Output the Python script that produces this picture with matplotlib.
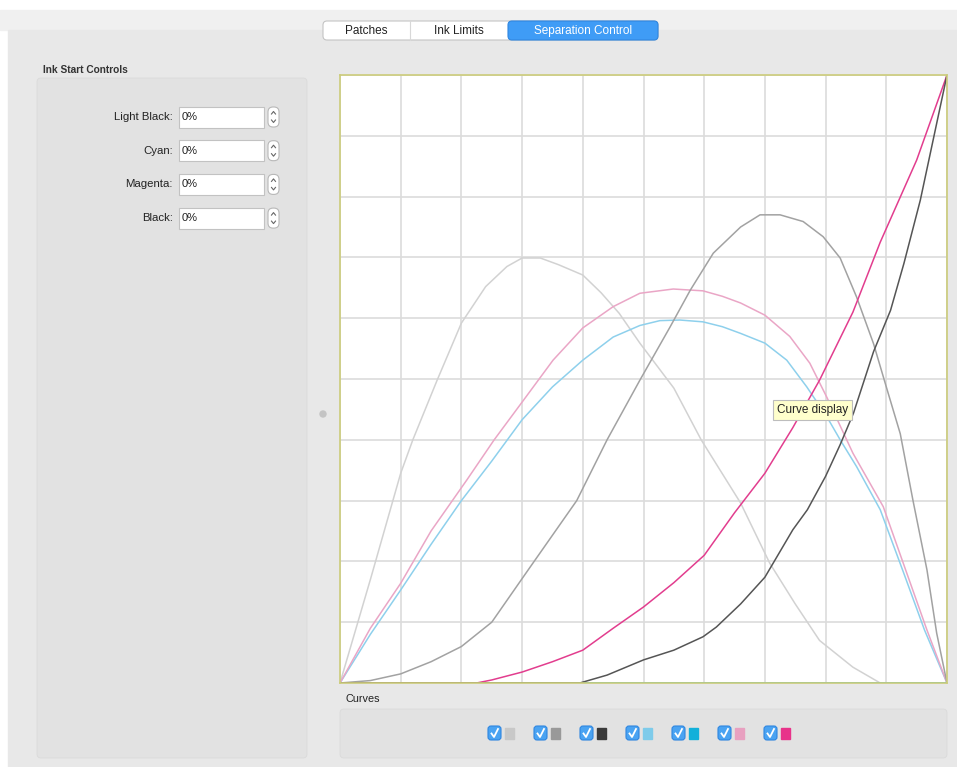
import matplotlib.pyplot as plt
from matplotlib.patches import FancyBboxPatch, Rectangle, Circle
import numpy as np

plt.rcParams['font.family'] = ['Liberation Sans', 'DejaVu Sans']

# --- curve data (ink % vs input %) ---
x_light_black = [0, 5, 10, 12, 16, 20, 24, 27.5, 30, 33, 36, 40, 43, 46, 49.4, 55, 59.5, 66, 70.8, 75, 79, 84.5, 89]
y_light_black = [0, 17, 34.5, 40, 49.8, 59.2, 65.2, 68.5, 69.9, 69.9, 68.8, 67.1, 64.2, 60.8, 55.9, 48.5, 40, 29.6, 19.7, 13, 7, 2.6, 0]

x_gray = [0, 5, 10, 15, 20, 25, 31, 39, 44, 49.4, 54.4, 57.7, 61.5, 66, 69.2, 72.5, 76.3, 79.6, 82.4,
          85.1, 87.9, 90, 92.3, 94.4, 96.7, 98.3, 100]
y_gray = [0, 0.4, 1.5, 3.5, 6, 10, 18.6, 30, 40, 49.8, 58.6, 64.6, 70.7, 75, 77, 77, 75.9, 73.4, 69.9,
          63.5, 55.8, 48.7, 41, 30, 18.6, 8.2, 0]

x_black = [0, 39.5, 44, 50, 55, 59.8, 62, 66, 70, 74.6, 77, 80, 82.4, 84.6, 87.9, 90.7, 92.9, 95.6, 100]
y_black = [0, 0, 1.3, 3.8, 5.4, 7.6, 9.2, 13, 17.4, 25.2, 28.5, 34, 39.2, 44.4, 54.5, 61.3, 69, 79.4, 100]

x_light_cyan = [0, 5, 10, 15, 20, 25, 30, 35, 40, 45, 49.4, 52.7, 56, 59.8, 63, 66, 70, 73.6, 76.9,
                80.2, 82.4, 85.1, 89, 92.9, 96.3, 100]
y_light_cyan = [0, 8, 15.3, 22.8, 30, 36.5, 43.3, 48.7, 53.1, 56.9, 58.8, 59.6, 59.7, 59.4, 58.6, 57.5, 55.9, 53.1, 48.7,
                43.8, 40, 35.6, 28.5, 18, 8.7, 0]

x_cyan = [0, 100]
y_cyan = [0, 0]

x_light_magenta = [0, 5, 10, 15, 20.9, 25.4, 30, 35.1, 40, 45, 49.4, 54.9, 59.8, 63, 66, 70, 74.1, 77.4,
                   80.2, 84.5, 89.5, 93.4, 96.7, 100]
y_light_magenta = [0, 9, 16.4, 25, 33.4, 40, 46.2, 53.1, 58.4, 61.9, 64.1, 64.8, 64.5, 63.6, 62.5, 60.5, 57, 52.6,
                   47, 37.8, 29, 18, 8.7, 0]

x_magenta = [0, 22.5, 25, 30, 35, 40, 45, 50, 55, 60, 65, 70, 74.6, 79, 84.5, 89, 95, 100]
y_magenta = [0, 0, 0.5, 1.8, 3.5, 5.4, 9, 12.5, 16.5, 21, 28, 34.5, 42, 49.8, 61, 72.5, 86, 100]

tab_names = ['Patches', 'Ink Limits', 'Separation Control']
control_labels = ['Light Black:', 'Cyan:', 'Magenta:', 'Black:']
control_values = ['0%', '0%', '0%', '0%']
swatch_colors = ['#c8c8c8', '#999999', '#3a3a3a', '#7ecbea', '#12b0da', '#e8a0c0', '#e8338a']

W, H = 957, 767
fig = plt.figure(figsize=(W / 100, H / 100), dpi=100)

# background axes in pixel units
bg = fig.add_axes([0, 0, 1, 1])
bg.set_xlim(0, W)
bg.set_ylim(H, 0)
bg.axis('off')

bg.add_patch(Rectangle((0, 0), W, H, color='#ffffff', zorder=0))
bg.add_patch(Rectangle((0, 10), W, 20, color='#f0f0f0', zorder=0))
bg.add_patch(Rectangle((8, 30), W - 8, H - 30, color='#e8e8e8', zorder=0))

# tabs
tab_edges = [323, 410, 508, 658]
bg.add_patch(FancyBboxPatch((323, 21), 335, 19, boxstyle='round,pad=0,rounding_size=4',
                            fc='white', ec='#c4c4c4', lw=0.8, zorder=1))
bg.add_patch(FancyBboxPatch((508, 21), 150, 19, boxstyle='round,pad=0,rounding_size=4',
                            fc='#3f9cf6', ec='#2f86e0', lw=0.8, zorder=2))
bg.plot([410, 410], [21, 40], color='#d8d8d8', lw=0.8, zorder=2)
for i, name in enumerate(tab_names):
    cx = (tab_edges[i] + tab_edges[i + 1]) / 2
    col = 'white' if i == 2 else '#222222'
    bg.text(cx, 31, name, ha='center', va='center', fontsize=8.5, color=col, zorder=3)

# left panel
bg.text(43, 70, 'Ink Start Controls', ha='left', va='center', fontsize=7.3,
        color='#333333', fontweight='bold', zorder=3)
bg.add_patch(FancyBboxPatch((37, 78), 270, 680, boxstyle='round,pad=0,rounding_size=4',
                            fc='#e2e2e2', ec='#dadada', lw=0.6, zorder=1))
for i, (lab, val) in enumerate(zip(control_labels, control_values)):
    cy = 117 + i * 33.7
    bg.text(173, cy, lab, ha='right', va='center', fontsize=8.2, color='#222222', zorder=3)
    bg.add_patch(Rectangle((179, cy - 10.5), 85, 21, fc='white', ec='#c2c2c2', lw=0.8, zorder=2))
    bg.text(182, cy, val, ha='left', va='center', fontsize=8.0, color='#222222', zorder=3)
    bg.add_patch(FancyBboxPatch((268, cy - 10), 11, 20, boxstyle='round,pad=0,rounding_size=5',
                                fc='white', ec='#b8b8b8', lw=0.8, zorder=2))
    bg.plot([271.5, 273.5, 275.5], [cy - 3, cy - 5.5, cy - 3], color='#666666', lw=0.8, zorder=3)
    bg.plot([271.5, 273.5, 275.5], [cy + 3, cy + 5.5, cy + 3], color='#666666', lw=0.8, zorder=3)

# splitter dot
bg.add_patch(Circle((323, 414), 3, color='#c4c4c4', zorder=2))

# curves panel
bg.text(345, 699, 'Curves', ha='left', va='center', fontsize=7.8, color='#222222', zorder=3)
bg.add_patch(FancyBboxPatch((340, 709), 607, 49, boxstyle='round,pad=0,rounding_size=4',
                            fc='#e2e2e2', ec='#dadada', lw=0.6, zorder=1))
for i, col in enumerate(swatch_colors):
    bx = 488 + i * 46
    bg.add_patch(FancyBboxPatch((bx, 726), 13, 14, boxstyle='round,pad=0,rounding_size=3',
                                fc='#4aa3f2', ec='#2f86e0', lw=0.8, zorder=2))
    bg.plot([bx + 3.5, bx + 6, bx + 10], [733.5, 737, 729], color='white', lw=1.3, zorder=3)
    bg.add_patch(Rectangle((bx + 17, 727.5), 9, 11, color=col, zorder=2))

# curve display chart
ax = fig.add_axes([340 / W, (H - 683) / H, 607 / W, 608 / H])
ax.set_facecolor('white')
ax.plot(x_light_black, y_light_black, color='#d2d2d2', lw=1.1)
ax.plot(x_light_cyan, y_light_cyan, color='#8ed0ec', lw=1.1)
ax.plot(x_light_magenta, y_light_magenta, color='#eaa6c6', lw=1.1)
ax.plot(x_gray, y_gray, color='#a2a2a2', lw=1.1)
ax.plot(x_cyan, y_cyan, color='#12b0da', lw=1.1)
ax.plot(x_magenta, y_magenta, color='#e23d8e', lw=1.1)
ax.plot(x_black, y_black, color='#555555', lw=1.1)

ax.set_xlim(0, 100)
ax.set_ylim(0, 100)
ax.set_xticks(np.arange(0, 101, 10))
ax.set_yticks(np.arange(0, 101, 10))
ax.tick_params(length=0, labelbottom=False, labelleft=False)
ax.grid(True, color='#dcdcdc', lw=1.2)
ax.set_axisbelow(True)
for sp in ax.spines.values():
    sp.set_color('#cccc7a')
    sp.set_linewidth(1.2)

# tooltip
ax.text(72, 44.9, 'Curve display', ha='left', va='center', fontsize=8.5, color='#222222',
        bbox=dict(boxstyle='square,pad=0.3', fc='#ffffcc', ec='#bdbdbd', lw=0.8), zorder=5)

fig.savefig('out.png', dpi=100)
